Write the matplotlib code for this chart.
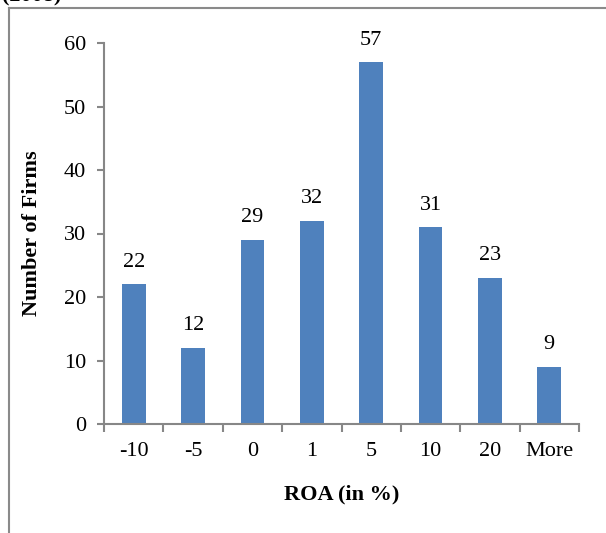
import matplotlib
matplotlib.use("Agg")
import matplotlib.pyplot as plt
from matplotlib.lines import Line2D
import numpy as np

# ROA histogram bins and firm counts
categories = ["-10", "-5", "0", "1", "5", "10", "20", "More"]
counts = [22, 12, 29, 32, 57, 31, 23, 9]
y_ticks = [0, 10, 20, 30, 40, 50, 60]

plt.rcParams["font.family"] = ["Liberation Serif", "DejaVu Serif"]
FS = 16

W, H = 606, 533
fig = plt.figure(figsize=(W / 100, H / 100), dpi=100)
ax = fig.add_axes([104 / W, 1 - 424 / H, (579 - 104) / W, (424 - 43) / H])

axis_grey = "#878787"
bar_blue = "#4F81BD"

x = np.arange(len(categories))
bars = ax.bar(x, counts, width=0.40, color=bar_blue, zorder=2)

for xi, v in zip(x, counts):
    ax.annotate(str(v), (xi, v), xytext=(0, 9), textcoords="offset points",
                ha="center", va="bottom", fontsize=FS, color="black")

ax.set_xlim(-0.5, len(categories) - 0.5)
ax.set_ylim(0, 60)

# category labels centred under bars, tick marks on bin boundaries
ax.set_xticks(np.arange(len(categories) + 1) - 0.5)
ax.set_xticklabels([])
ax.set_xticks(x, minor=True)
ax.set_xticklabels(categories, minor=True, fontsize=FS)
ax.tick_params(axis="x", which="major", length=6, width=1.5, color=axis_grey, direction="out")
ax.tick_params(axis="x", which="minor", length=0, pad=13)

ax.set_yticks(y_ticks)
ax.set_yticklabels([str(t) for t in y_ticks], fontsize=FS)
ax.tick_params(axis="y", length=5, width=1.5, color=axis_grey, direction="out", pad=8)

for side in ("top", "right"):
    ax.spines[side].set_visible(False)
for side in ("left", "bottom"):
    ax.spines[side].set_color(axis_grey)
    ax.spines[side].set_linewidth(1.5)

ax.set_xlabel("ROA (in %)", fontsize=FS, fontweight="bold", labelpad=17)
fig.text(32 / W, 1 - 233 / H, "Number of Firms", rotation=90, ha="center", va="center",
         fontsize=FS, fontweight="bold")

# outer chart frame (left and top edges)
frame_grey = "#8a8a8a"
fig.add_artist(Line2D([9 / W, 9 / W], [0, 1 - 8 / H], transform=fig.transFigure,
                      color=frame_grey, linewidth=1.5))
fig.add_artist(Line2D([9 / W, 1], [1 - 8 / H, 1 - 8 / H], transform=fig.transFigure,
                      color=frame_grey, linewidth=1.5))

# caption line from the surrounding page, mostly above the frame
fig.text(2 / W, 1 - 1 / H, "(2008)", ha="left", va="baseline", fontsize=FS,
         fontweight="bold")

fig.savefig("out.png", dpi=100)
